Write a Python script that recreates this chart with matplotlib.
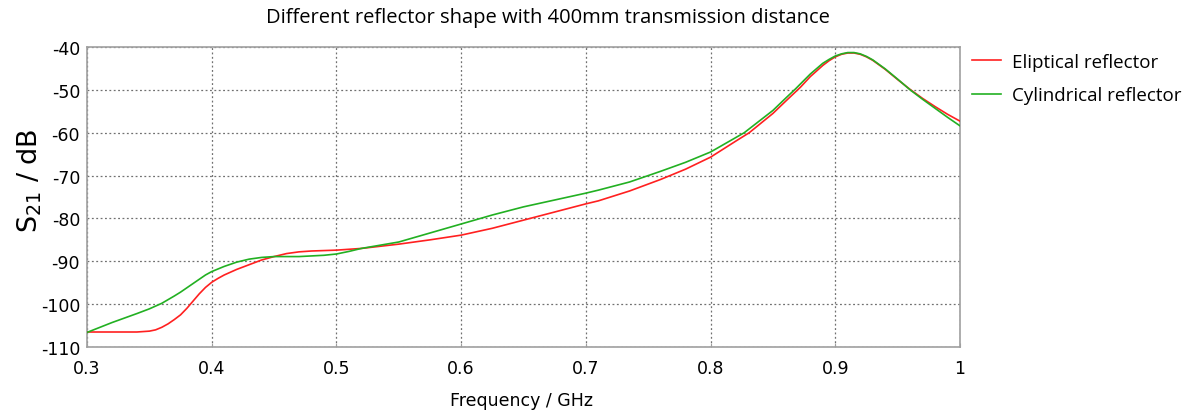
import matplotlib
matplotlib.use("Agg")
import matplotlib.pyplot as plt

plt.rcParams['mathtext.default'] = 'regular'
plt.rcParams['axes.unicode_minus'] = False

title = "Different reflector shape with 400mm transmission distance"
xlabel = "Frequency / GHz"
series_names = ["Eliptical reflector", "Cylindrical reflector"]

x_ticks = [0.3, 0.4, 0.5, 0.6, 0.7, 0.8, 0.9, 1.0]
x_tick_labels = ["0.3", "0.4", "0.5", "0.6", "0.7", "0.8", "0.9", "1"]
y_ticks = [-110, -100, -90, -80, -70, -60, -50, -40]

freq_ellip = [0.30, 0.32, 0.34, 0.35, 0.355, 0.36, 0.365, 0.37, 0.375, 0.38, 0.385, 0.39,
              0.395, 0.40, 0.405, 0.41, 0.42, 0.43, 0.44, 0.45, 0.46, 0.47, 0.48, 0.49,
              0.50, 0.52, 0.55, 0.575, 0.60, 0.625, 0.65, 0.675, 0.70, 0.71, 0.735, 0.76,
              0.78, 0.80, 0.82, 0.831, 0.85, 0.86, 0.872, 0.88, 0.89, 0.895, 0.90, 0.905,
              0.91, 0.915, 0.92, 0.925, 0.93, 0.94, 0.95, 0.96, 0.97, 0.98, 0.99, 1.00]
s21_ellip = [-106.5, -106.5, -106.5, -106.3, -106.0, -105.4, -104.6, -103.6, -102.5, -101.0,
             -99.3, -97.6, -96.1, -94.9, -94.0, -93.2, -91.9, -90.8, -89.7, -88.9, -88.2,
             -87.8, -87.6, -87.5, -87.4, -87.0, -86.0, -85.0, -83.9, -82.3, -80.4, -78.5,
             -76.6, -75.9, -73.6, -70.9, -68.5, -65.7, -62.0, -60.0, -55.5, -52.7, -49.4,
             -46.9, -44.3, -43.2, -42.3, -41.7, -41.4, -41.4, -41.7, -42.3, -43.1, -45.2,
             -47.6, -49.9, -52.0, -53.9, -55.7, -57.3]

freq_cyl = [0.30, 0.32, 0.34, 0.35, 0.36, 0.37, 0.375, 0.38, 0.385, 0.39, 0.395, 0.40,
            0.41, 0.42, 0.43, 0.44, 0.45, 0.47, 0.49, 0.50, 0.51, 0.52, 0.55, 0.575, 0.60,
            0.625, 0.65, 0.675, 0.70, 0.71, 0.735, 0.76, 0.78, 0.80, 0.827, 0.85, 0.86,
            0.868, 0.88, 0.89, 0.895, 0.90, 0.905, 0.91, 0.915, 0.92, 0.925, 0.93, 0.94,
            0.95, 0.96, 0.97, 0.98, 0.99, 1.00]
s21_cyl = [-106.6, -104.3, -102.2, -101.1, -99.8, -98.1, -97.2, -96.2, -95.2, -94.2,
           -93.2, -92.4, -91.2, -90.2, -89.5, -89.1, -88.9, -88.9, -88.6, -88.3, -87.7,
           -87.0, -85.5, -83.4, -81.3, -79.2, -77.3, -75.7, -74.1, -73.4, -71.5, -69.0,
           -66.9, -64.5, -60.0, -54.8, -52.0, -49.8, -46.3, -43.8, -42.9, -42.1, -41.6,
           -41.3, -41.3, -41.6, -42.2, -43.0, -45.1, -47.5, -50.0, -52.2, -54.3, -56.4,
           -58.4]

fig = plt.figure(figsize=(12.03, 4.14), dpi=100)
ax = fig.add_axes([87/1203, 1 - 348/414, (960 - 87)/1203, 300/414])

l1, = ax.plot(freq_ellip, s21_ellip, color='#ff2020', lw=1.2, label=series_names[0], zorder=3)
l2, = ax.plot(freq_cyl, s21_cyl, color='#22b022', lw=1.2, label=series_names[1], zorder=4)

ax.set_xlim(0.3, 1.0)
ax.set_ylim(-110, -40)
ax.set_xticks(x_ticks)
ax.set_xticklabels(x_tick_labels)
ax.set_yticks(y_ticks)
ax.grid(True, linestyle=(0, (1.5, 2)), color='#707070', linewidth=0.9)
for s in ax.spines.values():
    s.set_color('#a0a0a0')
    s.set_linewidth(1.2)
ax.tick_params(axis='both', labelsize=12.5, colors='#a0a0a0', labelcolor='black',
               length=3, direction='in')
ax.tick_params(axis='x', pad=9)
ax.tick_params(axis='y', pad=5, length=0)

fig.text(548/1203, 1 - 18/414, title, ha='center', va='center', fontsize=14.5,
         family='Open Sans')
fig.text(522/1203, 1 - 401/414, xlabel, ha='center', va='center', fontsize=12.5,
         family='DejaVu Sans')
fig.text(30/1203, 1 - 181/414, "S$_{21}$ / dB", ha='center', va='center', fontsize=19.5,
         rotation=90, family='DejaVu Sans')

leg = fig.legend(handles=[l1, l2], loc='upper left', bbox_to_anchor=(964/1203, 1 - 46/414),
                 frameon=False, handlelength=1.55, handletextpad=0.6,
                 labelspacing=0.85, borderaxespad=0, prop={'family': 'Open Sans', 'size': 13.5})

fig.savefig("out.png", dpi=100)
